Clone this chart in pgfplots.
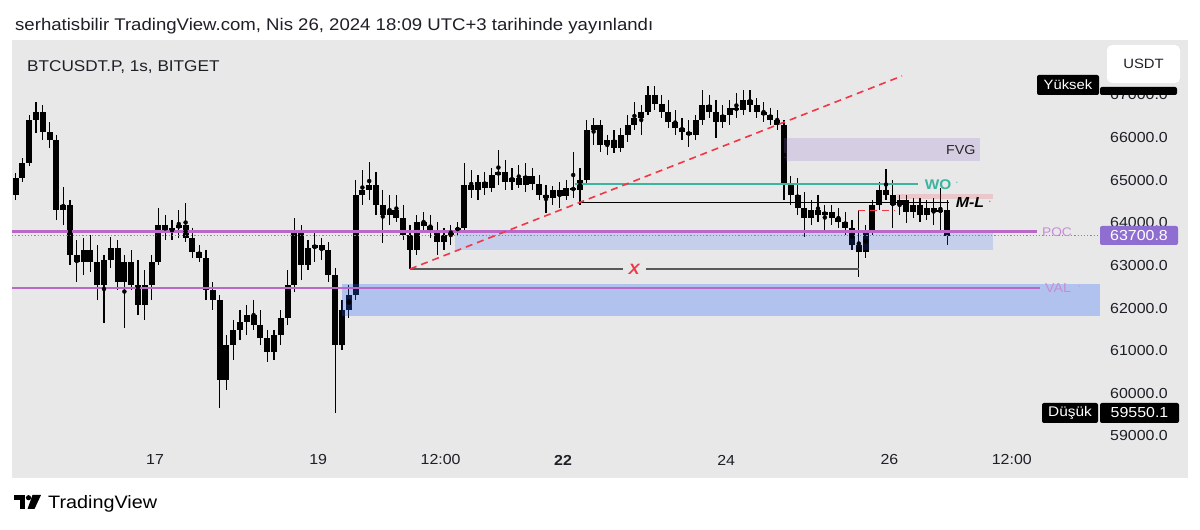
\documentclass[border=0pt]{standalone}
\usepackage{fontspec}
\setmainfont{Liberation Sans}[FakeStretch=1.1]
\usepackage{pgfplots}
\usepackage{pgfplotstable}
\pgfplotsset{compat=1.18}
\definecolor{panel}{RGB}{232,232,232}
\definecolor{tvpurple}{RGB}{186,104,200}
\definecolor{poctxt}{RGB}{200,140,215}
\definecolor{tvblue}{RGB}{41,98,255}
\definecolor{tvred}{RGB}{242,54,69}
\definecolor{tvteal}{RGB}{60,180,160}
\definecolor{fvg}{RGB}{149,117,205}
\definecolor{pocbox}{RGB}{142,110,208}
\definecolor{txt}{RGB}{30,32,40}
\definecolor{dotc}{RGB}{140,125,200}

% t = hours since Apr 15 00:00 ; o hi lo c = prices (USDT)
\pgfplotstableread{
t o hi lo c
7 64651 65167 64534 65050
9 65050 65519 64956 65402
11 65402 66527 65331 66410
13 66410 66832 66105 66598
15 66598 66762 65941 66129
17 66129 66363 65753 65941
19 65941 66058 64065 64300
21 64300 64839 63948 64417
23 64417 64534 63010 63244
25 63244 63596 62611 63080
27 63080 63643 62775 63362
29 63362 63713 62846 63080
31 63080 63479 62189 62541
33 62541 63244 61650 63127
35 63127 63666 62939 63408
37 63408 63596 62424 62611
39 62611 63244 61532 63080
41 63080 63362 62424 62541
43 62541 63127 61837 62072
45 62072 62893 61720 62541
47 62541 63244 62189 63080
49 63080 64346 63010 63948
51 63948 64182 63596 63784
53 63784 64065 63596 63877
55 63877 64300 63643 63948
57 63948 64464 63549 63643
59 63643 63877 63174 63315
61 63315 63479 63080 63174
63 63174 63362 62189 62424
65 62424 62611 61955 62189
67 62189 62306 59656 60313
69 60313 61368 60079 61134
71 61134 61720 60782 61486
73 61486 61955 61251 61673
75 61673 62072 61368 61837
77 61837 62189 61486 61603
79 61603 61955 61134 61298
81 61298 61486 60735 60970
83 60970 61486 60782 61368
85 61368 61955 61134 61767
87 61767 62893 61603 62541
89 62541 64112 62377 63784
91 63784 63948 62658 63010
93 63010 63596 62893 63408
95 63408 63784 63080 63479
97 63479 63643 63127 63362
99 63362 63549 62611 62775
101 62775 62939 59550.1 61134
103 61134 62189 61017 61955
105 61955 62541 61767 62306
107 62306 65003 62189 64651
109 64651 65238 64417 64769
111 64769 65425 64534 64886
113 64886 65191 64182 64417
115 64417 64769 63526 64182
117 64182 64651 63948 64300
119 64300 64651 64018 64112
121 64112 64417 63596 63713
123 63713 63948 62916 63362
125 63362 64182 63244 64018
127 64018 64253 63784 63924
129 63924 64182 63643 63831
131 63831 64018 63244 63549
133 63549 63877 63362 63713
135 63713 63948 63479 63831
137 63831 64018 63690 63877
139 63877 65402 63784 64886
141 64886 65238 64581 64769
143 64769 65120 64534 64956
145 64956 65191 64651 64816
147 64816 65284 64722 65120
149 65120 65707 64886 65191
151 65191 65472 64769 64956
153 64956 65284 64769 65050
155 65050 65355 64816 64886
157 64886 65402 64722 65097
159 65097 65284 64769 64909
161 64909 65120 64534 64651
163 64651 64886 64229 64581
165 64581 64862 64417 64769
167 64769 64956 64346 64628
169 64628 65003 64534 64816
171 64816 65660 64581 64769
173 64769 65284 64417 65003
175 65003 66410 64886 66176
177 66176 66457 65824 66293
179 66293 66410 65660 65824
181 65824 66058 65589 65941
183 65941 66176 65636 65753
185 65753 66222 65660 66058
187 66058 66527 65894 66293
189 66293 66832 66176 66457
191 66457 66762 66058 66598
193 66598 67207 66527 66996
195 66996 67207 66645 66785
197 66785 66996 66457 66598
199 66598 66879 66222 66363
201 66363 66645 66058 66222
203 66222 66457 65941 66129
205 66129 66410 65777 66058
207 66058 66527 65941 66410
209 66410 67113 66293 66762
211 66762 66996 66457 66598
213 66598 66879 65988 66363
215 66363 66762 66222 66527
217 66527 66879 66293 66691
219 66691 67043 66457 66645
221 66645 67113 66527 66879
223 66879 67113 66598 66762
225 66762 66926 66457 66598
227 66598 66832 66363 66527
229 66527 66691 66293 66410
231 66410 66645 66176 66293
233 66293 66410 64534 64886
235 64886 65097 64417 64651
237 64651 65050 64182 64346
239 64346 64722 63666 64112
241 64112 64534 63948 64300
243 64300 64651 64018 64182
245 64182 64417 63831 64253
247 64253 64417 63948 64112
249 64112 64346 63877 64018
251 64018 64253 63713 63877
253 63877 64065 63362 63479
255 63479 64300 62728 63315
257 63315 63948 63174 63831
259 63831 64534 63713 64417
261 64417 64956 64300 64769
263 64769 65261 64534 64651
265 64651 65003 63877 64417
267 64417 64651 64182 64534
269 64534 64651 63995 64253
271 64253 64581 64112 64417
273 64417 64581 64018 64182
275 64182 64534 64065 64346
277 64346 64581 63948 64253
279 64253 64816 63831 64300
281 64300 64534 63479 63700.8
}\candles

\begin{document}
\begin{tikzpicture}[x=1pt,y=1pt]
\fill[white] (0,0) rectangle (1200,530);
\fill[panel] (12,52) rectangle (1188,490);
\node[anchor=base west, inner sep=0pt, text=txt, font=\fontsize{16.9}{18}\selectfont] at (15,499) {serhatisbilir TradingView.com, Nis 26, 2024 18:09 UTC+3 tarihinde yayınlandı};
\begin{axis}[
  at={(12pt,85pt)}, anchor=south west, scale only axis,
  width=1088pt, height=405pt,
  xmin=5.94, xmax=325.94, ymin=58788.75, ymax=68286,
  scaled y ticks=false, scaled x ticks=false,
  axis line style={draw=none}, tick style={draw=none}, major tick length=0pt,
  ytick={59000,60000,61000,62000,63000,64000,65000,66000,67000},
  yticklabels={59000.0,60000.0,61000.0,62000.0,63000.0,64000.0,65000.0,66000.0,67000.0},
  yticklabel pos=right,
  yticklabel style={anchor=west, inner sep=0pt, xshift=10pt, text=txt, font=\fontsize{14.5}{16}\selectfont},
  xtick={48,96,132,168,216,264,300},
  xticklabels={17,19,12:00,\textbf{22},24,26,12:00},
  xticklabel style={anchor=center, inner sep=0pt, yshift=-15pt, text=txt, font=\fontsize{14.5}{16}\selectfont},
]
% wicks
\addplot[only marks, mark=none, error bars/.cd, y dir=both, y explicit, error mark=none,
  error bar style={line width=1.2pt, black}]
  table[x=t, y expr={(\thisrow{hi}+\thisrow{lo})/2}, y error expr={(\thisrow{hi}-\thisrow{lo})/2}] {\candles};
% bodies
\addplot[only marks, mark=none, error bars/.cd, y dir=both, y explicit, error mark=none,
  error bar style={line width=5.9pt, black}]
  table[x=t, y expr={(\thisrow{o}+\thisrow{c})/2}, y error expr={abs(\thisrow{o}-\thisrow{c})/2}] {\candles};
% zones
\fill[tvblue, opacity=0.28] (103,61814) rectangle (325.94,62564);
\fill[tvblue, opacity=0.18] (136.2,63362) rectangle (294.5,63784);
\fill[fvg, opacity=0.22] (233,65449) rectangle (290.6,65988);
\fill[tvred, opacity=0.18] (266.2,64558) rectangle (294.5,64675);
% POC / VAL
\addplot[dotc, line width=1.2pt, dash pattern=on 1.2pt off 2pt] coordinates {(5.94,63700.8) (325.94,63700.8)};
\addplot[tvpurple, line width=2.8pt] coordinates {(5.94,63795) (307.4,63795)};
\addplot[tvpurple, line width=2.8pt] coordinates {(5.94,62471) (308.3,62471)};
% levels
\addplot[tvteal, line width=1.8pt] coordinates {(171.5,64903) (272.4,64903)};
\addplot[black, line width=1.4pt] coordinates {(172.7,64471) (281.5,64471)};
\addplot[black!65, line width=1.4pt] coordinates {(123,62916) (185.5,62916)};
\addplot[black!65, line width=1.4pt] coordinates {(192.5,62916) (255,62916)};
\addplot[tvred, line width=1.6pt, dash pattern=on 7pt off 5pt] coordinates {(123,62916) (267.7,67442)};
\addplot[tvred, line width=1.6pt, dash pattern=on 7pt off 5pt] coordinates {(254.8,64283) (265.6,64283)};
% labels
\node[text=tvteal, font=\bfseries\fontsize{14}{14}\selectfont] at (278.3,64903) {WO};
\node[text=tvteal, font=\fontsize{10}{10}\selectfont] at (283.9,64903) {·};
\node[text=black, font=\bfseries\itshape\fontsize{14.5}{14}\selectfont] at (287.7,64471) {M-L};
\node[text=black!60, font=\fontsize{10}{10}\selectfont] at (293.6,64471) {·};
\node[text=black!85, font=\fontsize{13}{13}\selectfont] at (285,65707) {FVG};
\node[text=tvred, font=\bfseries\itshape\fontsize{15}{15}\selectfont] at (188.9,62916) {X};
\node[text=poctxt, font=\fontsize{12.5}{13}\selectfont] at (313.3,63790) {POC};
\node[text=poctxt, font=\fontsize{13}{13}\selectfont] at (313.6,62471) {VAL};
\node[text=poctxt, font=\fontsize{10}{10}\selectfont] at (319.8,62471) {·};
\end{axis}
% symbol / pane labels
\node[anchor=base west, inner sep=0pt, text=txt, font=\fontsize{15.6}{16}\selectfont] at (27,458) {BTCUSDT.P, 1s, BITGET};
% high label
\fill[black, rounded corners=2pt] (1100,435) rectangle (1177,443);
\fill[black, rounded corners=2pt] (1037,435) rectangle (1099,455);
\node[text=white, font=\fontsize{13.5}{14}\selectfont] at (1068,445) {Yüksek};
\fill[white, rounded corners=5pt] (1107,447) rectangle (1180,485);
\node[text=txt, font=\fontsize{13.5}{14}\selectfont] at (1143.5,466) {USDT};
% last price
\fill[pocbox, rounded corners=2pt] (1100,285) rectangle (1178,304);
\node[text=white, font=\fontsize{14.5}{15}\selectfont] at (1139,294.5) {63700.8};
% low label
\fill[black, rounded corners=2pt] (1042,107) rectangle (1098,127);
\node[text=white, font=\fontsize{14}{14}\selectfont] at (1070,117) {Düşük};
\fill[black, rounded corners=2pt] (1100,107) rectangle (1179,127);
\node[text=white, font=\fontsize{14.5}{15}\selectfont] at (1139.5,117) {59550.1};
% TradingView logo
\fill[black] (14,30) rectangle (25,35);
\fill[black] (19.5,21) rectangle (25,35);
\fill[black] (28.5,32.3) circle (2.6);
\fill[black] (32.5,35) -- (41,35) -- (34.5,21) -- (27.5,21) -- cycle;
\node[anchor=base west, inner sep=0pt, text=black, font=\fontsize{18}{19}\selectfont] at (48,21) {TradingView};
\end{tikzpicture}
\end{document}
